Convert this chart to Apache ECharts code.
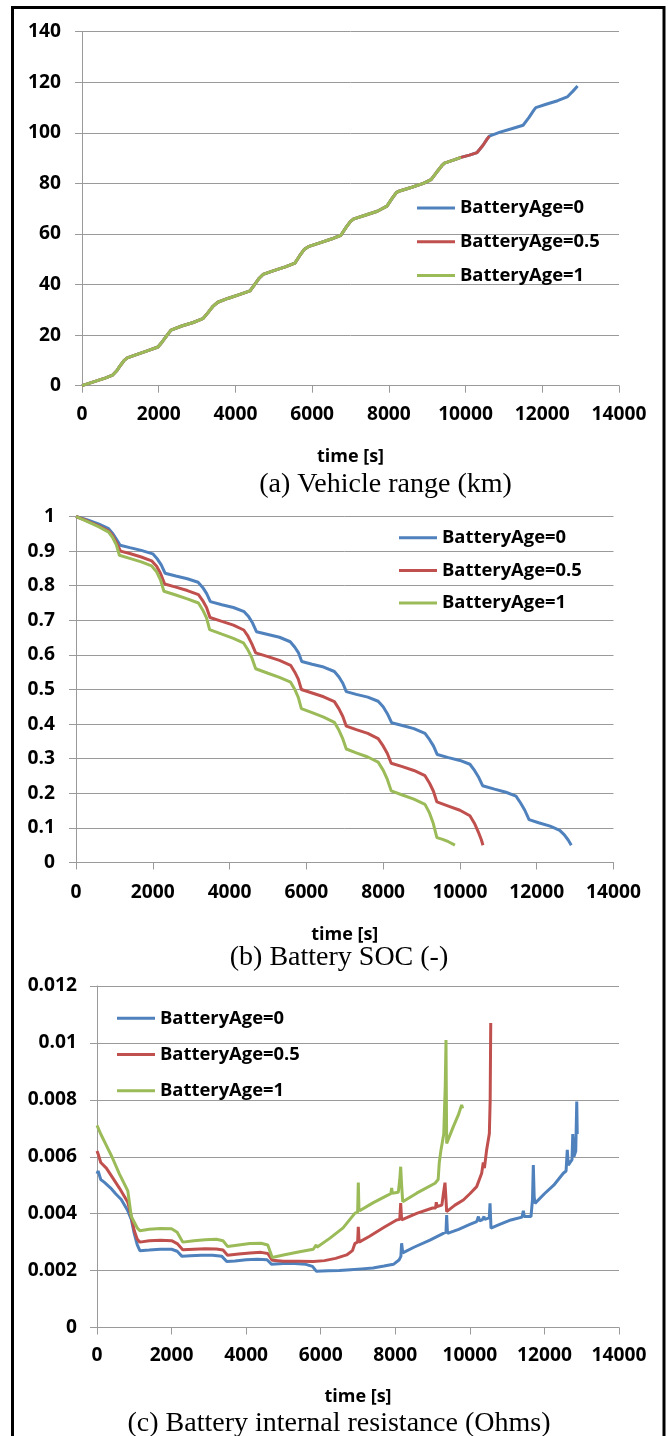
<!DOCTYPE html>
<html>
<head>
<meta charset="utf-8">
<script src="https://cdn.jsdelivr.net/npm/echarts@6/dist/echarts.min.js"></script>
<style>
  html, body { margin: 0; padding: 0; background: #fff; }
  #main { width: 668px; height: 1436px; }
</style>
</head>
<body>
<div id="main"></div>
<script>
// 数据: [时间 s, 数值]
const seriesNames = ['BatteryAge=0', 'BatteryAge=0.5', 'BatteryAge=1']
const seriesColors = ['#4F81BD', '#C0504D', '#9BBB59']

// (a) Vehicle range (km)
const rangeAge0 = [[0,0],[300,1.5],[600,3.0],[800,4.2],[900,5.8],[1000,8.0],[1100,10.0],[1180,11.0],[1400,12.2],[1700,13.8],[1980,15.3],[2100,17.5],[2220,20.0],[2320,22.0],[2600,23.6],[2900,25.0],[3150,26.5],[3280,28.8],[3420,31.5],[3540,33.0],[3800,34.5],[4100,36.0],[4380,37.5],[4500,40.0],[4620,42.5],[4720,44.0],[5000,45.5],[5300,47.0],[5550,48.5],[5680,51.5],[5800,54.0],[5900,55.0],[6200,56.5],[6500,58.0],[6750,59.5],[6880,62.5],[7000,65.0],[7090,66.0],[7400,67.5],[7700,69.0],[7950,71.0],[8080,74.0],[8200,76.5],[8280,77.0],[8600,78.5],[8900,80.0],[9100,81.5],[9250,84.5],[9380,87.0],[9450,88.0],[9700,89.3],[9880,90.3],[10100,91.2],[10300,92.2],[10450,95.0],[10560,97.5],[10620,98.7],[10900,100.3],[11200,101.6],[11500,103.0],[11650,106.0],[11780,109.0],[11830,110.0],[12100,111.3],[12400,112.7],[12650,114.2],[12800,116.5],[12920,118.5]]
const rangeAge05 = [[0,0],[300,1.5],[600,3.0],[800,4.2],[900,5.8],[1000,8.0],[1100,10.0],[1180,11.0],[1400,12.2],[1700,13.8],[1980,15.3],[2100,17.5],[2220,20.0],[2320,22.0],[2600,23.6],[2900,25.0],[3150,26.5],[3280,28.8],[3420,31.5],[3540,33.0],[3800,34.5],[4100,36.0],[4380,37.5],[4500,40.0],[4620,42.5],[4720,44.0],[5000,45.5],[5300,47.0],[5550,48.5],[5680,51.5],[5800,54.0],[5900,55.0],[6200,56.5],[6500,58.0],[6750,59.5],[6880,62.5],[7000,65.0],[7090,66.0],[7400,67.5],[7700,69.0],[7950,71.0],[8080,74.0],[8200,76.5],[8280,77.0],[8600,78.5],[8900,80.0],[9100,81.5],[9250,84.5],[9380,87.0],[9450,88.0],[9700,89.3],[9880,90.3],[10100,91.2],[10300,92.2],[10450,95.0],[10560,97.5],[10620,98.7]]
const rangeAge1 = [[0,0],[300,1.5],[600,3.0],[800,4.2],[900,5.8],[1000,8.0],[1100,10.0],[1180,11.0],[1400,12.2],[1700,13.8],[1980,15.3],[2100,17.5],[2220,20.0],[2320,22.0],[2600,23.6],[2900,25.0],[3150,26.5],[3280,28.8],[3420,31.5],[3540,33.0],[3800,34.5],[4100,36.0],[4380,37.5],[4500,40.0],[4620,42.5],[4720,44.0],[5000,45.5],[5300,47.0],[5550,48.5],[5680,51.5],[5800,54.0],[5900,55.0],[6200,56.5],[6500,58.0],[6750,59.5],[6880,62.5],[7000,65.0],[7090,66.0],[7400,67.5],[7700,69.0],[7950,71.0],[8080,74.0],[8200,76.5],[8280,77.0],[8600,78.5],[8900,80.0],[9100,81.5],[9250,84.5],[9380,87.0],[9450,88.0],[9700,89.3],[9880,90.3]]

// (b) Battery SOC (-)
const socAge0 = [[0,1.0],[300,0.99],[600,0.978],[850,0.965],[950,0.952],[1050,0.935],[1150,0.917],[1400,0.91],[1700,0.902],[2000,0.892],[2120,0.877],[2220,0.86],[2320,0.836],[2600,0.828],[2900,0.82],[3180,0.81],[3300,0.795],[3400,0.778],[3500,0.754],[3800,0.745],[4100,0.737],[4380,0.725],[4500,0.71],[4600,0.692],[4700,0.667],[5000,0.659],[5300,0.651],[5580,0.638],[5700,0.622],[5800,0.605],[5880,0.581],[6150,0.573],[6450,0.565],[6730,0.552],[6850,0.536],[6950,0.518],[7040,0.494],[7300,0.486],[7600,0.478],[7870,0.466],[8000,0.45],[8110,0.43],[8220,0.404],[8500,0.396],[8800,0.387],[9090,0.373],[9210,0.355],[9310,0.337],[9410,0.312],[9700,0.303],[10000,0.295],[10260,0.284],[10380,0.266],[10480,0.248],[10590,0.222],[10900,0.212],[11200,0.203],[11460,0.192],[11580,0.172],[11690,0.151],[11800,0.124],[12050,0.115],[12350,0.105],[12600,0.093],[12720,0.08],[12820,0.065],[12900,0.05]]
const socAge05 = [[0,1.0],[300,0.987],[600,0.972],[850,0.958],[950,0.945],[1050,0.925],[1160,0.9],[1400,0.893],[1700,0.883],[1970,0.872],[2100,0.856],[2200,0.836],[2310,0.805],[2600,0.796],[2900,0.786],[3190,0.774],[3300,0.757],[3400,0.737],[3490,0.708],[3800,0.697],[4100,0.686],[4370,0.672],[4480,0.654],[4580,0.632],[4680,0.606],[5000,0.595],[5300,0.584],[5590,0.57],[5700,0.55],[5790,0.53],[5870,0.5],[6150,0.49],[6450,0.479],[6730,0.465],[6850,0.444],[6950,0.422],[7040,0.394],[7300,0.384],[7600,0.373],[7870,0.358],[8000,0.337],[8110,0.315],[8210,0.287],[8500,0.277],[8800,0.266],[9090,0.251],[9210,0.229],[9310,0.206],[9400,0.175],[9700,0.163],[10000,0.151],[10260,0.135],[10380,0.113],[10480,0.088],[10560,0.065],[10600,0.05]]
const socAge1 = [[0,1.0],[300,0.985],[600,0.97],[850,0.955],[950,0.94],[1050,0.918],[1130,0.888],[1400,0.879],[1700,0.869],[1970,0.857],[2100,0.84],[2200,0.817],[2290,0.784],[2600,0.773],[2900,0.762],[3190,0.75],[3300,0.73],[3400,0.707],[3480,0.673],[3800,0.66],[4100,0.648],[4360,0.635],[4480,0.614],[4580,0.592],[4680,0.56],[5000,0.547],[5300,0.535],[5590,0.521],[5700,0.5],[5790,0.477],[5870,0.445],[6150,0.433],[6450,0.42],[6730,0.405],[6850,0.382],[6950,0.357],[7040,0.328],[7300,0.317],[7600,0.305],[7870,0.29],[8000,0.267],[8110,0.24],[8210,0.207],[8500,0.195],[8800,0.183],[9090,0.168],[9200,0.145],[9300,0.115],[9400,0.072],[9550,0.067],[9700,0.06],[9870,0.05]]

// (c) Battery internal resistance (Ohms)
const resAge0 = [[0,0.0054],[30,0.0055],[100,0.0052],[200,0.0051],[367,0.0049],[500,0.0047],[650,0.0045],[826,0.0041],[920,0.0038],[1000,0.0033],[1080,0.0029],[1150,0.0027],[1400,0.00272],[1700,0.00275],[2000,0.00275],[2150,0.00268],[2280,0.0025],[2500,0.00252],[2800,0.00254],[3100,0.00254],[3350,0.0025],[3480,0.00232],[3700,0.00234],[4000,0.00238],[4300,0.0024],[4560,0.00238],[4680,0.00222],[5000,0.00225],[5300,0.00225],[5600,0.00222],[5780,0.00215],[5880,0.00198],[6200,0.00199],[6500,0.002],[6800,0.00203],[7100,0.00206],[7400,0.00209],[7700,0.00216],[7950,0.00222],[8100,0.00237],[8150,0.0025],[8170,0.00296],[8200,0.00262],[8500,0.00282],[8930,0.00307],[9288,0.00331],[9360,0.00335],[9378,0.00395],[9400,0.00331],[9700,0.00345],[10000,0.00362],[10183,0.00372],[10230,0.0039],[10260,0.00375],[10330,0.00378],[10380,0.0039],[10400,0.0038],[10520,0.00385],[10541,0.00436],[10567,0.00349],[10800,0.00362],[11100,0.00378],[11400,0.00388],[11434,0.0041],[11460,0.0039],[11640,0.0039],[11680,0.0045],[11702,0.00571],[11725,0.0046],[11747,0.00436],[12000,0.0047],[12250,0.005],[12506,0.00542],[12580,0.0055],[12613,0.00624],[12640,0.0057],[12740,0.0059],[12760,0.0068],[12790,0.006],[12840,0.0062],[12867,0.00794],[12880,0.0068]]
const resAge05 = [[0,0.0062],[30,0.0061],[100,0.0058],[250,0.0056],[400,0.0053],[600,0.0049],[826,0.0044],[920,0.0039],[1000,0.0034],[1080,0.0031],[1150,0.003],[1400,0.00305],[1700,0.00307],[2000,0.00305],[2150,0.00295],[2300,0.00273],[2600,0.00275],[2900,0.00277],[3200,0.00276],[3380,0.00272],[3500,0.00254],[3800,0.00258],[4100,0.00262],[4400,0.00264],[4580,0.0026],[4700,0.00236],[5000,0.00233],[5400,0.00233],[5800,0.00232],[6100,0.00235],[6400,0.00243],[6696,0.00255],[6850,0.0027],[6919,0.00296],[6990,0.003],[7008,0.00354],[7030,0.003],[7300,0.0032],[7700,0.00352],[8036,0.00378],[8120,0.0038],[8145,0.00437],[8170,0.00378],[8574,0.00401],[9000,0.0042],[9080,0.0042],[9100,0.0044],[9120,0.00425],[9250,0.0043],[9290,0.0047],[9333,0.00509],[9360,0.0045],[9378,0.00407],[9600,0.0043],[9825,0.00448],[10000,0.0047],[10183,0.00495],[10317,0.00542],[10360,0.0058],[10390,0.0056],[10450,0.00624],[10523,0.00682],[10545,0.008],[10560,0.0107]]
const resAge1 = [[0,0.0071],[30,0.0071],[100,0.0068],[250,0.0064],[400,0.006],[600,0.0054],[826,0.0048],[920,0.0039],[1000,0.0037],[1080,0.0035],[1150,0.0034],[1400,0.00345],[1700,0.00348],[2000,0.00347],[2150,0.00335],[2300,0.003],[2600,0.00305],[2900,0.00308],[3200,0.0031],[3380,0.00305],[3500,0.00285],[3800,0.0029],[4100,0.00295],[4400,0.00296],[4580,0.0029],[4700,0.00246],[5000,0.00255],[5400,0.00265],[5800,0.00275],[5880,0.0029],[5900,0.00282],[6249,0.00314],[6600,0.0035],[6919,0.00402],[6990,0.00405],[7008,0.00509],[7025,0.0042],[7043,0.0041],[7400,0.00438],[7800,0.00465],[7880,0.0047],[7903,0.0049],[7920,0.00472],[8081,0.00475],[8120,0.0052],[8145,0.00565],[8170,0.005],[8199,0.00442],[8574,0.00472],[9066,0.00507],[9150,0.0052],[9180,0.0058],[9226,0.00624],[9300,0.0068],[9340,0.0085],[9360,0.0101],[9378,0.00647],[9557,0.00706],[9691,0.00747],[9780,0.00782],[9807,0.0077]]

// 按参考图文字宽度换算字号
const fitSize = (text, width) => {
  const ctx = document.createElement('canvas').getContext('2d')
  ctx.font = 'bold 100px "Open Sans"'
  return Math.round(100 * width / ctx.measureText(text).width * 10) / 10
}
const tickSize = fitSize('12000', 55)
const legendSize = fitSize('BatteryAge=0', 124)
const nameSize = fitSize('time [s]', 67)

const labelFont = { fontFamily: 'Open Sans', fontWeight: 'bold', fontSize: tickSize, color: '#000' }
const gray = '#9a9a9a'

const chart = echarts.init(document.getElementById('main'))

const xAxisOf = (gridIndex, labelMargin, nameGap) => ({
  type: 'value', gridIndex, min: 0, max: 14000, interval: 2000,
  name: 'time [s]', nameLocation: 'middle', nameGap,
  nameTextStyle: { ...labelFont, fontSize: nameSize },
  axisLine: { lineStyle: { color: gray, width: 1 } },
  axisTick: { show: true, length: 7, lineStyle: { color: gray } },
  axisLabel: { ...labelFont, margin: labelMargin, formatter: v => String(v) },
  splitLine: { show: false }
})

const yAxisOf = (gridIndex, max, interval, labelMargin) => ({
  type: 'value', gridIndex, min: 0, max, interval,
  axisLine: { show: true, lineStyle: { color: gray, width: 1 } },
  axisTick: { show: true, length: 7, lineStyle: { color: gray } },
  axisLabel: { ...labelFont, margin: labelMargin },
  splitLine: { show: true, lineStyle: { color: gray, width: 1 } }
})

const lineOf = (i, data, gridIndex) => ({
  name: seriesNames[i], type: 'line', data,
  xAxisIndex: gridIndex, yAxisIndex: gridIndex,
  showSymbol: false, symbol: 'none',
  lineStyle: { width: 3, color: seriesColors[i] },
  itemStyle: { color: seriesColors[i] },
  z: 2 + i
})

// left/top = 图例线条起点 / 第一行中心 - 10
const legendOf = (left, top, gap) => ({
  orient: 'vertical', left, top, padding: 0,
  data: seriesNames, icon: 'rect',
  itemWidth: 38, itemHeight: 3, itemGap: gap,
  textStyle: { ...labelFont, fontSize: legendSize, lineHeight: 20 }
})

const caption = (text, x, y) => ({
  type: 'text', x, y,
  style: { text, font: '28px "Liberation Serif"', fill: '#000', textAlign: 'center', textVerticalAlign: 'middle' }
})

const option = {
  animation: false,
  backgroundColor: '#fff',
  grid: [
    { left: 82, top: 31.7, width: 537, height: 354 },
    { left: 76, top: 516.5, width: 537.5, height: 346 },
    { left: 97, top: 986, width: 522, height: 341.5 }
  ],
  xAxis: [xAxisOf(0, 19, 62), xAxisOf(1, 21, 63), xAxisOf(2, 19, 60)],
  yAxis: [yAxisOf(0, 140, 20, 21), yAxisOf(1, 1, 0.1, 21), yAxisOf(2, 0.012, 0.002, 20)],
  legend: [
    legendOf(417, 198, 13.7),
    legendOf(399, 527.7, 12.7),
    legendOf(117, 1008.3, 16.2)
  ],
  series: [
    lineOf(0, rangeAge0, 0), lineOf(1, rangeAge05, 0), lineOf(2, rangeAge1, 0),
    lineOf(0, socAge0, 1), lineOf(1, socAge05, 1), lineOf(2, socAge1, 1),
    lineOf(0, resAge0, 2), lineOf(1, resAge05, 2), lineOf(2, resAge1, 2)
  ],
  graphic: [
    { type: 'rect', shape: { x: 12.5, y: 7.5, width: 651.5, height: 1440 }, style: { fill: 'none', stroke: '#000', lineWidth: 3 } },
    caption('(a) Vehicle range (km)', 385.5, 485),
    caption('(b) Battery SOC (-)', 339, 958),
    caption('(c) Battery internal resistance (Ohms)', 339, 1424)
  ]
}

option && chart.setOption(option)
</script>
</body>
</html>
